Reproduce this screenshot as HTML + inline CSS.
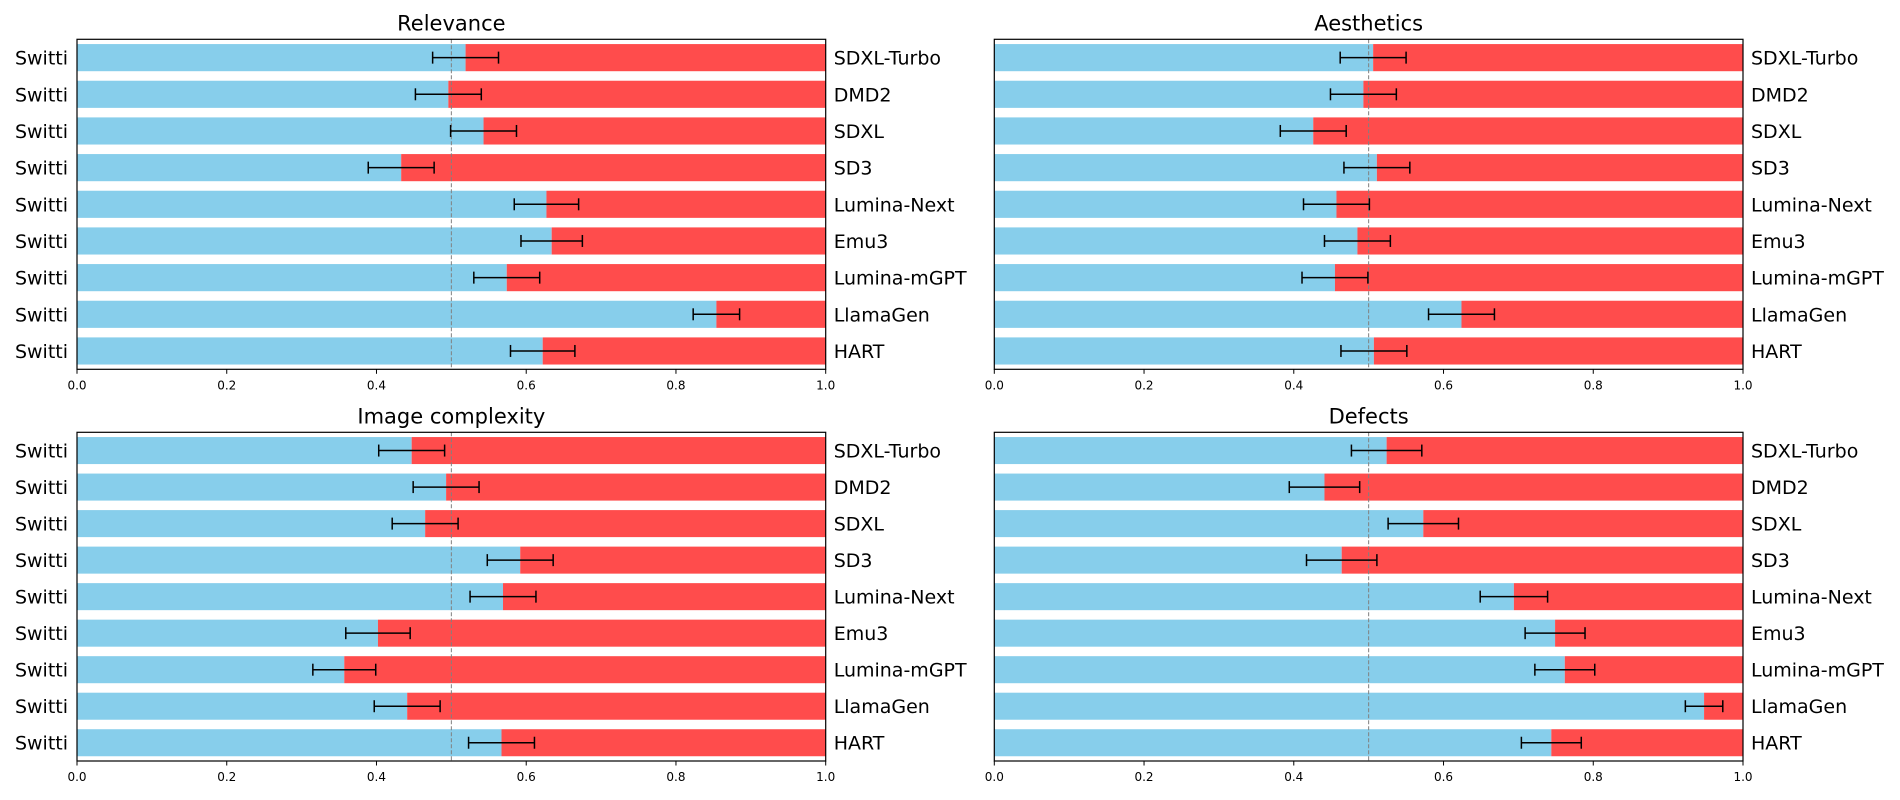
<!DOCTYPE html>
<html><head><meta charset="utf-8">
<style>
html,body{margin:0;padding:0;background:#fff;}
svg{display:block;font-family:"DejaVu Sans","Liberation Sans",sans-serif;}
</style></head>
<body>
<svg id="chart" width="1900" height="800" viewBox="0 0 1900 800" xmlns="http://www.w3.org/2000/svg"></svg>
<script>
const models = ["SDXL-Turbo","DMD2","SDXL","SD3","Lumina-Next","Emu3","Lumina-mGPT","LlamaGen","HART"];
const ticks = [0.0,0.2,0.4,0.6,0.8,1.0];
const tickLabels = ["0.0","0.2","0.4","0.6","0.8","1.0"];
const titles = ["Relevance","Aesthetics","Image complexity","Defects"];
const relevance = [0.519,0.496,0.543,0.433,0.627,0.634,0.574,0.854,0.622];
const relevanceErr = [0.044,0.044,0.044,0.044,0.043,0.041,0.044,0.031,0.043];
const aesthetics = [0.506,0.493,0.426,0.511,0.457,0.485,0.455,0.624,0.507];
const aestheticsErr = [0.044,0.044,0.044,0.044,0.044,0.044,0.044,0.044,0.044];
const complexity = [0.447,0.493,0.465,0.592,0.569,0.402,0.357,0.441,0.567];
const complexityErr = [0.044,0.044,0.044,0.044,0.044,0.043,0.042,0.044,0.044];
const defects = [0.524,0.441,0.573,0.464,0.694,0.749,0.762,0.948,0.744];
const defectsErr = [0.047,0.047,0.047,0.047,0.045,0.040,0.040,0.025,0.040];

const panels = [
  {x0:77, x1:825.7, y0:39.3, y1:369.3, vals:relevance, errs:relevanceErr, left:true},
  {x0:994.3, x1:1743, y0:39.3, y1:369.3, vals:aesthetics, errs:aestheticsErr, left:false},
  {x0:77, x1:825.7, y0:432.3, y1:761, vals:complexity, errs:complexityErr, left:true},
  {x0:994.3, x1:1743, y0:432.3, y1:761, vals:defects, errs:defectsErr, left:false}
];
const svg = document.getElementById('chart');
const NS = "http://www.w3.org/2000/svg";
function mk(tag, attrs, parent){
  const e = document.createElementNS(NS, tag);
  for (const k in attrs) e.setAttribute(k, attrs[k]);
  parent.appendChild(e);
  return e;
}
panels.forEach((p, pi) => {
  const g = mk('g', {}, svg);
  
  
  const xs = v => p.x0 + v * (p.x1 - p.x0);
  const unit = (p.y1 - p.y0) / 9;
  const ys = i => p.y0 + (i + 0.5) * unit;
  const bh = 0.74 * unit;
  models.forEach((m, i) => {
    const v = p.vals[i], cy = ys(i);
    const b = mk('rect', {x: xs(0), y: cy - bh/2, width: xs(v) - xs(0), height: bh, fill: '#87CEEB'}, g);
    
    
    const r = mk('rect', {x: xs(v), y: cy - bh/2, width: xs(1) - xs(v), height: bh, fill: '#FF4C4C'}, g);
    
    
  });
  const d = mk('line', {x1: xs(0.5), x2: xs(0.5), y1: p.y0, y2: p.y1, stroke: '#808080', 'stroke-width': 1, 'stroke-dasharray': '4,2'}, g);
  
  
  models.forEach((m, i) => {
    const v = p.vals[i], e = p.errs[i], cy = ys(i);
    const eg = mk('g', {stroke: '#000', 'stroke-width': 1.5}, g);
    
    
    mk('line', {x1: xs(v - e), x2: xs(v + e), y1: cy, y2: cy}, eg);
    mk('line', {x1: xs(v - e), x2: xs(v - e), y1: cy - 6, y2: cy + 6}, eg);
    mk('line', {x1: xs(v + e), x2: xs(v + e), y1: cy - 6, y2: cy + 6}, eg);
    if (p.left) {
      const l = mk('text', {x: p.x0 - 9, y: cy + 7, 'text-anchor': 'end', 'font-size': 19, fill: '#000'}, g);
      l.textContent = 'Switti';
      
      
    }
    const rl = mk('text', {x: p.x1 + 8, y: cy + 7, 'text-anchor': 'start', 'font-size': 19, fill: '#000'}, g);
    rl.textContent = m;
    
    
  });
  const fr = mk('rect', {x: p.x0, y: p.y0, width: p.x1 - p.x0, height: p.y1 - p.y0, fill: 'none', stroke: '#000', 'stroke-width': 1.2}, g);
  
  
  ticks.forEach((t, ti) => {
    mk('line', {x1: xs(t), x2: xs(t), y1: p.y1, y2: p.y1 + 4.5, stroke: '#000', 'stroke-width': 1}, g);
    const tl = mk('text', {x: xs(t), y: p.y1 + 20, 'text-anchor': 'middle', 'font-size': 12, fill: '#000'}, g);
    tl.textContent = tickLabels[ti];
    
    
  });
  const tt = mk('text', {x: (p.x0 + p.x1) / 2, y: p.y0 - 9, 'text-anchor': 'middle', 'font-size': 21, fill: '#000'}, g);
  tt.textContent = titles[pi];
  
  
});
</script>
</body></html>
